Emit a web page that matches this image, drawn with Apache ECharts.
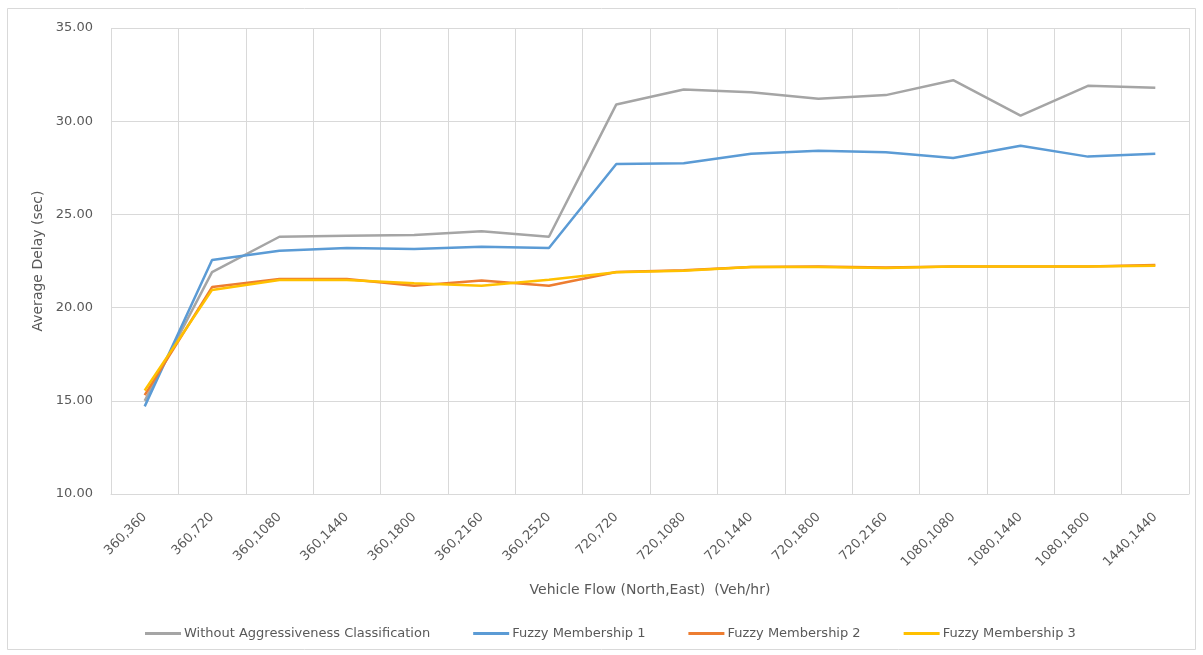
<!DOCTYPE html>
<html>
<head>
<meta charset="utf-8">
<script src="https://cdn.jsdelivr.net/npm/echarts@6/dist/echarts.min.js"></script>
<style>
  html, body { margin: 0; padding: 0; background: #ffffff; }
  #chart { width: 1203px; height: 655px; }
</style>
</head>
<body>
<div id="chart"></div>
<script>
// Vehicle flow pairs (North,East) in Veh/hr
const categories = [
  '360,360', '360,720', '360,1080', '360,1440', '360,1800', '360,2160', '360,2520',
  '720,720', '720,1080', '720,1440', '720,1800', '720,2160',
  '1080,1080', '1080,1440', '1080,1800', '1440,1440'
];

// Average delay (sec) per scheme
const withoutClassification = [15.0, 21.9, 23.8, 23.85, 23.9, 24.1, 23.8, 30.9, 31.7, 31.55, 31.2, 31.4, 32.2, 30.3, 31.9, 31.8];
const fuzzy1 = [14.7, 22.55, 23.05, 23.2, 23.15, 23.27, 23.2, 27.7, 27.75, 28.25, 28.42, 28.33, 28.03, 28.68, 28.1, 28.25];
const fuzzy2 = [15.3, 21.1, 21.53, 21.53, 21.17, 21.46, 21.17, 21.91, 22.0, 22.18, 22.2, 22.15, 22.2, 22.2, 22.2, 22.28];
const fuzzy3 = [15.55, 20.95, 21.48, 21.48, 21.3, 21.17, 21.5, 21.9, 21.98, 22.18, 22.18, 22.12, 22.2, 22.2, 22.2, 22.25];

const yTicks = { min: 10, max: 35, interval: 5 };

const textColor = '#595959';
const gridColor = '#d9d9d9';
const font = "'DejaVu Sans', 'Liberation Sans', sans-serif";

function lineSeries(name, data, color) {
  return {
    name: name,
    type: 'line',
    data: data,
    symbol: 'none',
    smooth: false,
    lineStyle: { width: 2.5, color: color },
    itemStyle: { color: color }
  };
}

const chart = echarts.init(document.getElementById('chart'), null, { renderer: 'canvas' });
chart.setOption({
  backgroundColor: '#ffffff',
  animation: false,
  textStyle: { fontFamily: font },
  graphic: [{
    type: 'rect',
    shape: { x: 7.5, y: 8.5, width: 1188, height: 641 },
    style: { fill: 'none', stroke: gridColor, lineWidth: 1 },
    silent: true,
    z: -1
  }],
  grid: { left: 111, right: 14, top: 28, bottom: 161, containLabel: false },
  legend: {
    bottom: 15,
    left: 145,
    padding: 0,
    itemWidth: 36,
    itemHeight: 3,
    itemGap: 43,
    icon: 'rect',
    textStyle: { color: textColor, fontSize: 13, fontFamily: font, padding: [0, 0, 0, -2] },
    data: ['Without Aggressiveness Classification', 'Fuzzy Membership 1', 'Fuzzy Membership 2', 'Fuzzy Membership 3']
  },
  xAxis: {
    type: 'category',
    data: categories,
    boundaryGap: true,
    name: 'Vehicle Flow (North,East)  (Veh/hr)',
    nameLocation: 'middle',
    nameGap: 89,
    nameTextStyle: { color: textColor, fontSize: 14, fontFamily: font },
    axisLine: { show: true, lineStyle: { color: gridColor, width: 1 } },
    axisTick: { show: false },
    axisLabel: { rotate: 45, color: textColor, fontSize: 13, margin: 21, interval: 0, fontFamily: font },
    splitLine: { show: true, lineStyle: { color: gridColor, width: 1 } }
  },
  yAxis: {
    type: 'value',
    min: yTicks.min,
    max: yTicks.max,
    interval: yTicks.interval,
    name: 'Average Delay (sec)',
    nameLocation: 'middle',
    nameGap: 53,
    nameRotate: 90,
    nameTextStyle: { color: textColor, fontSize: 14, fontFamily: font },
    axisLine: { show: false },
    axisTick: { show: false },
    axisLabel: {
      color: textColor, fontSize: 13, margin: 18, fontFamily: font,
      formatter: v => v.toFixed(2)
    },
    splitLine: { show: true, lineStyle: { color: gridColor, width: 1 } }
  },
  series: [
    lineSeries('Without Aggressiveness Classification', withoutClassification, '#A5A5A5'),
    lineSeries('Fuzzy Membership 1', fuzzy1, '#5B9BD5'),
    lineSeries('Fuzzy Membership 2', fuzzy2, '#ED7D31'),
    lineSeries('Fuzzy Membership 3', fuzzy3, '#FFC000')
  ]
});
</script>
</body>
</html>
